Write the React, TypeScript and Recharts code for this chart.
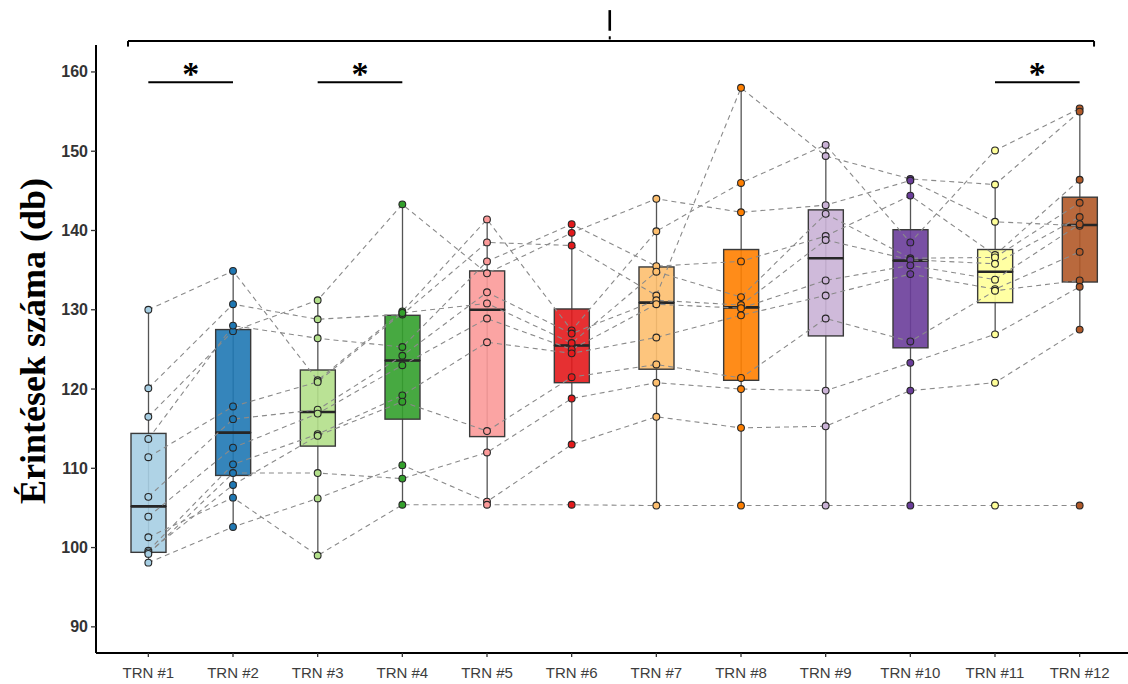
import React from 'react';
import { ComposedChart, Bar, Line, XAxis, YAxis, ReferenceLine, ReferenceDot } from 'recharts';

const categories = ['TRN #1', 'TRN #2', 'TRN #3', 'TRN #4', 'TRN #5', 'TRN #6', 'TRN #7', 'TRN #8', 'TRN #9', 'TRN #10', 'TRN #11', 'TRN #12'];
const boxColors = ['#A6CEE3', '#1F78B4', '#B2DF8A', '#33A02C', '#FB9A99', '#E31A1C', '#FDBF6F', '#FF7F00', '#CAB2D6', '#6A3D9A', '#FFFF99', '#B15928'];

const q1 = [99.4, 109.1, 112.8, 116.2, 114.0, 120.8, 122.5, 121.1, 126.7, 125.2, 130.9, 133.5];
const median = [105.2, 114.5, 117.1, 123.6, 130.0, 125.5, 130.9, 130.3, 136.5, 136.2, 134.8, 140.7];
const q3 = [114.4, 127.5, 122.4, 129.3, 134.9, 130.1, 135.4, 137.6, 142.6, 140.1, 137.6, 144.2];
const whiskerLow = [98.1, 102.6, 99.0, 105.4, 105.4, 113.0, 105.3, 105.3, 105.3, 105.3, 126.9, 127.5];
const whiskerHigh = [130.0, 134.9, 131.2, 143.3, 141.4, 140.8, 144.0, 158.0, 150.8, 146.5, 145.8, 155.4];

const subj01 = [130.0, 134.9, 121.1, 129.8, 141.4, 127.4, 139.9, 146.0, 150.8, 138.5, 150.1, 155.4];
const subj02 = [120.1, 130.7, 128.8, 129.4, 138.5, 138.1, 131.8, 158.0, 149.4, 146.5, 145.8, 155.0];
const subj03 = [116.5, 127.3, 131.2, 143.3, 134.6, 139.7, 144.0, 142.3, 143.2, 146.3, 141.1, 140.6];
const subj04 = [113.7, 128.0, 126.4, 125.3, 136.1, 140.8, 135.5, 136.1, 139.3, 144.4, 136.9, 146.4];
const subj05 = [111.4, 117.8, 120.9, 129.6, 130.8, 125.8, 134.8, 131.6, 142.1, 136.5, 136.6, 143.5];
const subj06 = [106.4, 116.2, 117.4, 124.2, 132.2, 127.0, 131.2, 130.6, 138.8, 136.3, 135.8, 141.7];
const subj07 = [103.9, 112.6, 116.9, 123.0, 128.9, 125.0, 130.7, 130.2, 133.7, 135.6, 133.8, 140.8];
const subj08 = [99.6, 110.5, 114.3, 119.2, 125.9, 124.5, 126.5, 129.3, 131.8, 134.5, 132.6, 137.3];
const subj09 = [99.4, 107.9, 114.1, 118.4, 114.7, 121.5, 123.1, 121.4, 128.9, 126.0, 132.4, 133.7];
const subj10 = [99.2, 109.4, 109.4, 108.7, 112.0, 118.8, 120.8, 120.0, 119.8, 123.3, 126.9, 132.9];
const subj11 = [98.1, 102.6, 106.2, 110.4, 105.8, 113.0, 116.5, 115.1, 115.3, 119.8, 120.8, 127.5];
const subj12 = [101.3, 106.3, 99.0, 105.4, 105.4, 105.4, 105.3, 105.3, 105.3, 105.3, 105.3, 105.3];
const subjects = [subj01, subj02, subj03, subj04, subj05, subj06, subj07, subj08, subj09, subj10, subj11, subj12];

const yTicks = [90, 100, 110, 120, 130, 140, 150, 160];
const yLabel = 'Érintések száma (db)';
const starPairs = [[1, 2], [3, 4], [11, 12]];

const data = categories.map((name, i) => {
  const row: any = {
    name,
    idx: i + 1,
    whisker: [whiskerLow[i], whiskerHigh[i]],
    lower: [q1[i], median[i]],
    upper: [median[i], q3[i]],
  };
  subjects.forEach((s, j) => {
    row['s' + j] = s[i];
  });
  return row;
});

const SANS = '"Liberation Sans", Arial, sans-serif';
const SERIF = '"Liberation Serif", "Times New Roman", serif';
const XPAD = { left: 10, right: 6 };
const NUM_DOMAIN: [number, number] = [0.382, 12.571];
const Y_DOMAIN: [number, number] = [86.7, 163.4];

const norm = (p: any) => {
  const top = Math.min(p.y, p.y + p.height);
  const h = Math.abs(p.height);
  return { top, h };
};

const WhiskerShape = (p: any) => {
  const { top, h } = norm(p);
  const cx = p.x + p.width / 2;
  return <line x1={cx} x2={cx} y1={top} y2={top + h} stroke="#555555" strokeWidth={1.3} />;
};

const LowerBox = (p: any) => {
  const { top, h } = norm(p);
  const i = (p.payload?.idx ?? 1) - 1;
  return <rect x={p.x} y={top} width={p.width} height={h} fill={boxColors[i]} fillOpacity={0.9} stroke="#3a3a3a" strokeWidth={1.4} />;
};

const UpperBox = (p: any) => {
  const { top, h } = norm(p);
  const i = (p.payload?.idx ?? 1) - 1;
  return (
    <g>
      <rect x={p.x} y={top} width={p.width} height={h} fill={boxColors[i]} fillOpacity={0.9} stroke="#3a3a3a" strokeWidth={1.4} />
      <line x1={p.x} x2={p.x + p.width} y1={top + h} y2={top + h} stroke="#262626" strokeWidth={2.6} />
    </g>
  );
};

const renderDot = (p: any) => {
  const i = (p.payload?.idx ?? 1) - 1;
  if (p.cx == null || p.cy == null) return <g key={`${p.dataKey}-${p.index}`} />;
  return <circle key={`${p.dataKey}-${p.index}`} cx={p.cx} cy={p.cy} r={3.4} fill={boxColors[i]} stroke="#262626" strokeWidth={1.1} />;
};

const YTick = (p: any) => (
  <text x={p.x} y={p.y} dy={5.5} textAnchor="end" fontSize={16} fontWeight={700} fill="#333333" fontFamily={SANS}>
    {p.payload.value}
  </text>
);

const XTick = (p: any) => (
  <text x={p.x} y={p.y} dy={19} textAnchor="middle" fontSize={15} fill="#3d3d3d" fontFamily={SANS}>
    {p.payload.value}
  </text>
);

const YLabel = (p: any) => {
  const vb = p.viewBox || { x: 36, y: 45, width: 60, height: 608 };
  const x = vb.x + 9;
  const y = vb.y + vb.height / 2 - 8;
  return (
    <text x={x} y={y} transform={`rotate(-90, ${x}, ${y})`} textAnchor="middle" fontSize={36} fontWeight={700} fill="#000" fontFamily={SERIF}>
      {yLabel}
    </text>
  );
};

const StarShape = (p: any) => (
  <text x={p.cx} y={p.cy} dy={3} textAnchor="middle" fontSize={34} fontWeight={700} fill="#000" fontFamily={SERIF}>
    *
  </text>
);

export default function App() {
  return (
    <div style={{ position: 'absolute', left: 0, top: 0, width: 1128, height: 684, background: '#fff' }}>
      <ComposedChart width={1128} height={684} data={data} margin={{ top: 45, right: 0, bottom: 1, left: 36 }}>
        <XAxis xAxisId="w" orientation="top" dataKey="name" padding={XPAD} hide />
        <XAxis xAxisId="lo" orientation="top" dataKey="name" padding={XPAD} hide />
        <XAxis xAxisId="hi" orientation="top" dataKey="name" padding={XPAD} hide />
        <XAxis xAxisId="num" orientation="top" type="number" dataKey="idx" domain={NUM_DOMAIN} allowDataOverflow hide />
        <XAxis
          xAxisId="main"
          dataKey="name"
          padding={XPAD}
          axisLine={{ stroke: '#000', strokeWidth: 2 }}
          tickLine={{ stroke: '#333', strokeWidth: 1.3 }}
          tickSize={4}
          tickMargin={2}
          height={30}
          interval={0}
          tick={<XTick />}
        />
        <YAxis
          domain={Y_DOMAIN}
          allowDataOverflow
          ticks={yTicks}
          interval={0}
          width={60}
          axisLine={{ stroke: '#000', strokeWidth: 2 }}
          tickLine={{ stroke: '#333', strokeWidth: 1.3 }}
          tickSize={5}
          tickMargin={3}
          tick={<YTick />}
          label={{ content: YLabel }}
        />
        <Bar xAxisId="w" dataKey="whisker" barSize={35} shape={WhiskerShape} isAnimationActive={false} />
        <Bar xAxisId="lo" dataKey="lower" barSize={35} shape={LowerBox} isAnimationActive={false} />
        <Bar xAxisId="hi" dataKey="upper" barSize={35} shape={UpperBox} isAnimationActive={false} />
        {subjects.map((_, j) => (
          <Line
            key={'l' + j}
            xAxisId="main"
            dataKey={'s' + j}
            stroke="#8a8a8a"
            strokeWidth={1.1}
            strokeDasharray="5 4"
            dot={false}
            activeDot={false}
            isAnimationActive={false}
          />
        ))}
        {subjects.map((_, j) => (
          <Line
            key={'d' + j}
            xAxisId="main"
            dataKey={'s' + j}
            stroke="none"
            dot={renderDot}
            activeDot={false}
            isAnimationActive={false}
          />
        ))}
        {starPairs.map(([a, b], k) => (
          <ReferenceLine
            key={'sl' + k}
            xAxisId="num"
            segment={[{ x: a, y: 158.7 }, { x: b, y: 158.7 }]}
            stroke="#000"
            strokeWidth={2.2}
            ifOverflow="visible"
          />
        ))}
        {starPairs.map(([a, b], k) => (
          <ReferenceDot key={'st' + k} xAxisId="num" x={(a + b) / 2} y={158.7} ifOverflow="visible" shape={StarShape} />
        ))}
        <ReferenceLine xAxisId="num" segment={[{ x: 0.76, y: 163.9 }, { x: 12.17, y: 163.9 }]} stroke="#000" strokeWidth={2} ifOverflow="visible" />
        <ReferenceLine xAxisId="num" segment={[{ x: 0.76, y: 163.9 }, { x: 0.76, y: 163.2 }]} stroke="#000" strokeWidth={2} ifOverflow="visible" />
        <ReferenceLine xAxisId="num" segment={[{ x: 12.17, y: 163.9 }, { x: 12.17, y: 163.2 }]} stroke="#000" strokeWidth={2} ifOverflow="visible" />
        <ReferenceLine xAxisId="num" segment={[{ x: 6.45, y: 167.8 }, { x: 6.45, y: 165.2 }]} stroke="#000" strokeWidth={2.6} ifOverflow="visible" />
        <ReferenceLine xAxisId="num" segment={[{ x: 6.45, y: 164.5 }, { x: 6.45, y: 164.1 }]} stroke="#000" strokeWidth={2} ifOverflow="visible" />
      </ComposedChart>
    </div>
  );
}
